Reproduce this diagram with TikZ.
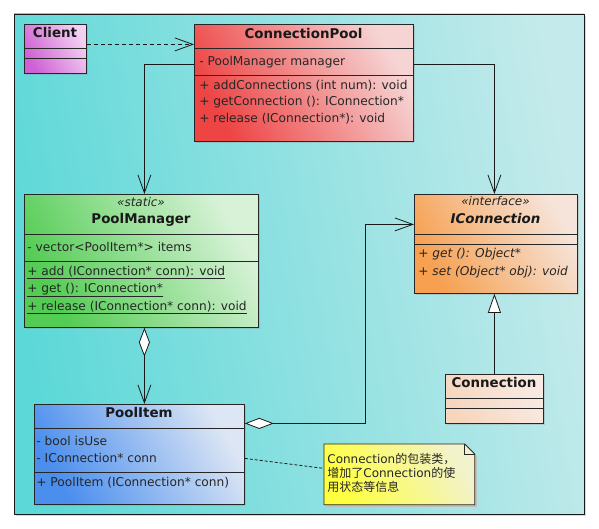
\documentclass[tikz,border=0pt]{standalone}
\usepackage{fontspec}
\setmainfont{DejaVu Sans}
\newfontfamily\cjk{Noto Sans CJK SC}
\usetikzlibrary{arrows.meta,shadows}

\definecolor{bgleft}{HTML}{5DD8D8}
\definecolor{bgright}{HTML}{C4EAEB}
\definecolor{clientA}{HTML}{D060D4}
\definecolor{clientB}{HTML}{F2D2F2}
\definecolor{poolA}{HTML}{EE4444}
\definecolor{poolB}{HTML}{F6D4D4}
\definecolor{managerA}{HTML}{52CC52}
\definecolor{managerB}{HTML}{D8F2D8}
\definecolor{iconnA}{HTML}{F6A050}
\definecolor{iconnB}{HTML}{F6E4DA}
\definecolor{connA}{HTML}{F7D6BE}
\definecolor{connB}{HTML}{F8EAE2}
\definecolor{itemA}{HTML}{4A8EEE}
\definecolor{itemB}{HTML}{DCE6F4}
\definecolor{noteA}{HTML}{FFFF40}
\definecolor{noteB}{HTML}{F2F2CC}

\begin{document}
\begin{tikzpicture}[x=1pt,y=-1pt,line width=0.8pt,
    grad/.style 2 args={left color=#1,right color=#2,shading angle=120},
    classbox/.style={draw=black!85,inner sep=0pt,anchor=north west,
      drop shadow={opacity=0.25,shadow xshift=2pt,shadow yshift=-2pt}},
    member/.style={anchor=base west,inner sep=0pt,font=\fontsize{12.2}{15}\selectfont,text=black!85},
    title/.style={anchor=base,inner sep=0pt,font=\fontsize{13.4}{16}\selectfont\bfseries,text=black!90},
    stereo/.style={anchor=base,inner sep=0pt,font=\fontsize{12}{14}\selectfont\itshape,text=black!85},
    notetext/.style={anchor=base west,inner sep=0pt,font=\fontsize{12}{14}\selectfont,text=black!85},
    barb/.tip={Straight Barb[length=18pt,width=13pt]},
    assoc/.style={draw=black!90,-barb},
    depend/.style={draw=black!90,dash pattern=on 4pt off 3pt,-barb},
    aggr/.style={draw=black!90,{Diamond[fill=white,length=29pt,width=11pt]}-barb},
    realize/.style={draw=black!90,-{Triangle[fill=white,length=19pt,width=13pt]}},
    anchorlink/.style={draw=black!90,dash pattern=on 3pt off 2pt}]

    \useasboundingbox (0,0) rectangle (599,529);

    % frame
    \fill[black!15] (16,16) rectangle (586,516);
    \shade[left color=bgleft,right color=bgright,shading angle=100] (14,14) rectangle (584,514);
    \draw[black!90] (14,14) rectangle (584,514);

    % Client
    \node[classbox,grad={clientA}{clientB},minimum width=62pt,minimum height=49pt] (client) at (24,24) {};
    \draw[black!85] (24,48.3) -- (86,48.3);
    \draw[black!85] (24,58.3) -- (86,58.3);
    \node[title] (client-t) at (55,38) {Client};

    % ConnectionPool
    \node[classbox,grad={poolA}{poolB},minimum width=219pt,minimum height=117pt] (pool) at (194,24) {};
    \draw[black!85] (194,48.3) -- (413,48.3);
    \draw[black!85] (194,75) -- (413,75);
    \node[title] (pool-t) at (303.5,38.3) {ConnectionPool};
    \node[member] (pool-a) at (199,65.5) {- PoolManager manager};
    \node[member] (pool-m1) at (199,89.5) {+ addConnections (int num): void};
    \node[member] (pool-m2) at (199,106) {+ getConnection (): IConnection*};
    \node[member] (pool-m3) at (199,122.5) {+ release (IConnection*): void};

    % PoolManager
    \node[classbox,grad={managerA}{managerB},minimum width=234pt,minimum height=133pt] (manager) at (24,194) {};
    \draw[black!85] (24,234) -- (258,234);
    \draw[black!85] (24,261) -- (258,261);
    \node[stereo] (manager-s) at (141,206.7) {«static»};
    \node[title] (manager-t) at (141,224) {PoolManager};
    \node[member] (manager-a) at (27,251.7) {- vector<PoolItem*> items};
    \node[member] (manager-m1) at (27,275) {\underline{+ add (IConnection* conn): void}};
    \node[member] (manager-m2) at (27,292.5) {\underline{+ get (): IConnection*}};
    \node[member] (manager-m3) at (27,310) {\underline{+ release (IConnection* conn): void}};

    % IConnection
    \node[classbox,grad={iconnA}{iconnB},minimum width=163pt,minimum height=99pt] (iconn) at (414,194) {};
    \draw[black!85] (414,234) -- (577,234);
    \draw[black!85] (414,244) -- (577,244);
    \node[stereo] (iconn-s) at (495.5,206) {«interface»};
    \node[title,font=\fontsize{13.4}{16}\selectfont\bfseries\itshape] (iconn-t) at (495.5,224) {IConnection};
    \node[member,font=\fontsize{12.2}{15}\selectfont\itshape] (iconn-m1) at (418,258) {+ get (): Object*};
    \node[member,font=\fontsize{12.2}{15}\selectfont\itshape] (iconn-m2) at (418,275) {+ set (Object* obj): void};

    % Connection
    \node[classbox,grad={connA}{connB},minimum width=98pt,minimum height=49pt] (conn) at (445,374) {};
    \draw[black!85] (445,398) -- (543,398);
    \draw[black!85] (445,408) -- (543,408);
    \node[title] (conn-t) at (494,387.7) {Connection};

    % PoolItem
    \node[classbox,grad={itemA}{itemB},minimum width=210pt,minimum height=100pt] (item) at (34,404) {};
    \draw[black!85] (34,428) -- (244,428);
    \draw[black!85] (34,472) -- (244,472);
    \node[title] (item-t) at (139,417.7) {PoolItem};
    \node[member] (item-a1) at (36,445) {- bool isUse};
    \node[member] (item-a2) at (36,462) {- IConnection* conn};
    \node[member] (item-m) at (36,486) {+ PoolItem (IConnection* conn)};

    % note
    \node[inner sep=0pt,minimum width=150pt,minimum height=60pt,anchor=north west] (note) at (324,444) {};
    \fill[black!25] ([shift={(2pt,-2pt)}]note.north west) -- ([shift={(-8pt,-2pt)}]note.north east)
      -- ([shift={(2pt,-12pt)}]note.north east) -- ([shift={(2pt,-2pt)}]note.south east)
      -- ([shift={(2pt,-2pt)}]note.south west) -- cycle;
    \shade[left color=noteA,right color=noteB,shading angle=120,draw=black!85]
      (note.north west) -- ([xshift=-10pt]note.north east) -- ([yshift=-10pt]note.north east)
      -- (note.south east) -- (note.south west) -- cycle;
    \draw[black!85] ([xshift=-10pt]note.north east) -- ([xshift=-10pt,yshift=-10pt]note.north east)
      -- ([yshift=-10pt]note.north east);
    \node[notetext] (note-l1) at (327,463.3) {Connection{\cjk 的包装类，}};
    \node[notetext] (note-l2) at (327,477.3) {{\cjk 增加了}Connection{\cjk 的使}};
    \node[notetext] (note-l3) at (327,491.7) {{\cjk 用状态等信息}};

    % connectors
    \coordinate (c1) at ([yshift=4.5pt]client.east);
    \draw[depend] (c1) -- (c1 -| pool.west);
    \draw[assoc] ([yshift=18.5pt]pool.west) -| ([xshift=3pt]manager.north);
    \draw[assoc] ([yshift=18.5pt]pool.east) -| ([xshift=-1.5pt]iconn.north);
    \coordinate (m1) at ([xshift=3pt]manager.south);
    \draw[aggr] (m1) -- (m1 |- item.north);
    \draw[aggr] ([yshift=31pt]item.east) -- ++(121,0) |- ([yshift=19.5pt]iconn.west);
    \draw[realize] (conn.north) -- (conn.north |- iconn.south);
    \draw[anchorlink] ([yshift=-4pt]item.east) -- ([yshift=6pt]note.west);

\end{tikzpicture}
\end{document}
